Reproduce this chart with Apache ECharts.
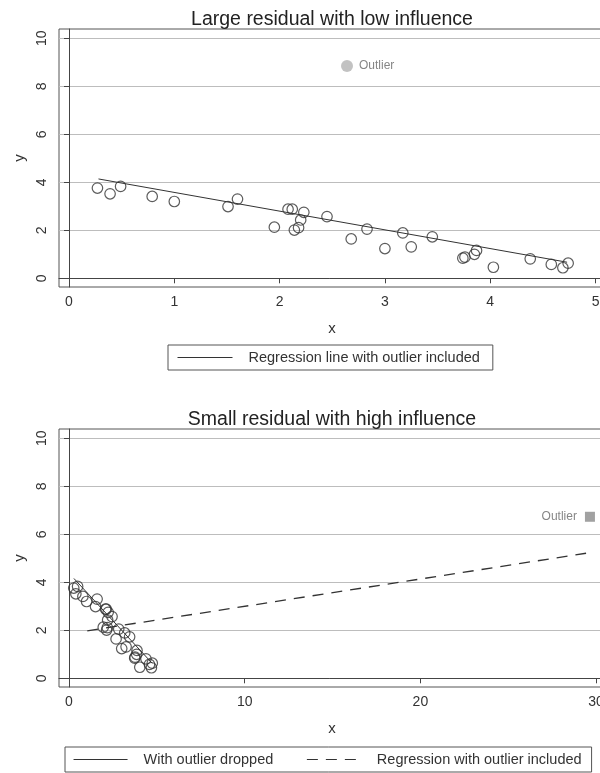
<!DOCTYPE html>
<html><head><meta charset="utf-8">
<script src="https://cdn.jsdelivr.net/npm/echarts@6/dist/echarts.min.js"></script>
<style>html,body{margin:0;padding:0;background:#fff}#c{width:600px;height:773px}</style>
</head><body><div id="c"></div>
<script>
// ---- data ----
const xVals = [0.27,0.39,0.49,0.79,1.00,1.51,1.60,1.95,2.08,2.12,2.23,2.20,2.14,2.18,2.45,2.68,2.83,3.00,3.17,3.25,3.45,3.74,3.76,3.85,3.87,4.03,4.38,4.58,4.69,4.74];
const yVals = [3.76,3.52,3.83,3.41,3.20,2.99,3.30,2.13,2.88,2.88,2.75,2.43,2.01,2.11,2.57,1.64,2.05,1.24,1.89,1.31,1.73,0.84,0.88,1.00,1.16,0.46,0.81,0.58,0.44,0.63];
const outlierTopX = [2.64];
const outlierTopY = [8.85];
const outlierBottomX = [29.65];
const outlierBottomY = [6.73];
const regTopX = [0.28, 4.73];
const regTopY = [4.14, 0.67];
const droppedX = [0.28, 4.74];
const droppedY = [4.16, 0.62];
const inclX = [1.04, 29.43];
const inclY = [1.98, 5.21];
const yTicks = [0, 2, 4, 6, 8, 10];
const xTicksTop = [0, 1, 2, 3, 4, 5];
const xTicksBottom = [0, 10, 20, 30];
const titleTop = 'Large residual with low influence';
const titleBottom = 'Small residual with high influence';
const nameTopLine = 'Regression line with outlier included';
const nameDropped = 'With outlier dropped';
const nameIncl = 'Regression with outlier included';
const outlierLabel = 'Outlier';

// ---- helpers ----
const pairs = (xs, ys) => xs.map((x, i) => [x, ys[i]]);
const FONT = 'Liberation Sans, Arial, Helvetica, sans-serif';
const axisCol = '#444';

function xAxisDef(gi, min, max, ticks) {
  return {
    type: 'value', gridIndex: gi, min: min, max: max,
    name: 'x', nameLocation: 'middle', nameGap: 34,
    nameTextStyle: {fontFamily: FONT, fontSize: 15, color: '#333'},
    axisLine: {show: true, lineStyle: {color: axisCol, width: 1}},
    axisTick: {show: true, length: 5, customValues: ticks, lineStyle: {color: axisCol}},
    axisLabel: {show: true, customValues: ticks, margin: 8, fontFamily: FONT, fontSize: 14, color: '#333'},
    splitLine: {show: false}
  };
}
function yAxisDef(gi, ticks) {
  return {
    type: 'value', gridIndex: gi, min: -0.3625, max: 10.3875,
    name: 'y', nameLocation: 'middle', nameGap: 31,
    nameTextStyle: {fontFamily: FONT, fontSize: 15, color: '#333'},
    axisLine: {show: true, lineStyle: {color: axisCol, width: 1}},
    axisTick: {show: true, length: 5, customValues: ticks, lineStyle: {color: axisCol}},
    axisLabel: {show: true, customValues: ticks, rotate: 90, margin: 10, fontFamily: FONT, fontSize: 14, color: '#333'},
    splitLine: {show: true, lineStyle: {color: '#bdbdbd', width: 1}}
  };
}
const circleStyle = {color: 'rgba(0,0,0,0)', borderColor: '#333', borderWidth: 1.2};
const legendHidden = {color: 'rgba(0,0,0,0)', borderColor: 'rgba(0,0,0,0)', borderWidth: 0, opacity: 0};

const chart = echarts.init(document.getElementById('c'), null, {renderer: 'canvas'});
chart.setOption({
  animation: false,
  backgroundColor: '#fff',
  title: [
    {text: titleTop, left: 332, top: 10, textAlign: 'center', padding: 0,
     textStyle: {fontFamily: FONT, fontSize: 19.5, fontWeight: 'normal', color: '#222'}},
    {text: titleBottom, left: 332, top: 410, textAlign: 'center', padding: 0,
     textStyle: {fontFamily: FONT, fontSize: 19.5, fontWeight: 'normal', color: '#222'}}
  ],
  grid: [
    {left: 59, top: 29, width: 546, height: 258, outerBoundsMode: 'none', containLabel: false,
     show: true, borderColor: '#555', borderWidth: 1, backgroundColor: 'rgba(0,0,0,0)'},
    {left: 59, top: 429, width: 546, height: 258, outerBoundsMode: 'none', containLabel: false,
     show: true, borderColor: '#555', borderWidth: 1, backgroundColor: 'rgba(0,0,0,0)'}
  ],
  xAxis: [
    xAxisDef(0, -0.095, 5.09, xTicksTop),
    xAxisDef(1, -0.569, 30.507, xTicksBottom)
  ],
  yAxis: [yAxisDef(0, yTicks), yAxisDef(1, yTicks)],
  legend: [
    {data: [nameTopLine], left: 168, top: 345, orient: 'horizontal', selectedMode: false,
     padding: [5, 13, 5, 9], itemWidth: 55, itemHeight: 17, borderColor: '#555', borderWidth: 1, borderRadius: 0,
     itemStyle: legendHidden, lineStyle: {width: 1, color: '#333'},
     textStyle: {fontFamily: FONT, fontSize: 14.5, color: '#333', padding: [0, 0, 0, 11]}},
    {data: [nameDropped, nameIncl], left: 65, top: 747, orient: 'horizontal', selectedMode: false,
     padding: [5, 10, 5, 8], itemWidth: 54, itemHeight: 17, itemGap: 33, borderColor: '#555', borderWidth: 1, borderRadius: 0,
     itemStyle: legendHidden, lineStyle: {width: 1.1, color: '#333'},
     textStyle: {fontFamily: FONT, fontSize: 14.5, color: '#333', padding: [0, 0, 0, 11]}}
  ],
  series: [
    {type: 'scatter', name: 'pts1', xAxisIndex: 0, yAxisIndex: 0, symbol: 'circle', symbolSize: 10.5,
     itemStyle: circleStyle, data: pairs(xVals, yVals), z: 3},
    {type: 'scatter', name: 'out1', xAxisIndex: 0, yAxisIndex: 0, symbol: 'circle', symbolSize: 12,
     itemStyle: {color: '#b3b3b3'}, data: pairs(outlierTopX, outlierTopY),
     label: {show: true, position: 'right', distance: 6, formatter: outlierLabel, fontFamily: FONT, fontSize: 12, color: '#666'}},
    {type: 'line', name: nameTopLine, xAxisIndex: 0, yAxisIndex: 0, symbol: 'none', showSymbol: false,
     lineStyle: {color: '#333', width: 1}, itemStyle: {color: '#333'}, data: pairs(regTopX, regTopY)},

    {type: 'scatter', name: 'pts2', xAxisIndex: 1, yAxisIndex: 1, symbol: 'circle', symbolSize: 10.5,
     itemStyle: circleStyle, data: pairs(xVals, yVals), z: 3},
    {type: 'scatter', name: 'out2', xAxisIndex: 1, yAxisIndex: 1, symbol: 'rect', symbolSize: 10,
     itemStyle: {color: '#8a8a8a'}, data: pairs(outlierBottomX, outlierBottomY),
     label: {show: true, position: 'left', distance: 8, formatter: outlierLabel, fontFamily: FONT, fontSize: 12, color: '#666'}},
    {type: 'line', name: nameDropped, xAxisIndex: 1, yAxisIndex: 1, symbol: 'none', showSymbol: false,
     lineStyle: {color: '#333', width: 1}, itemStyle: {color: '#333'}, data: pairs(droppedX, droppedY)},
    {type: 'line', name: nameIncl, xAxisIndex: 1, yAxisIndex: 1, symbol: 'none', showSymbol: false,
     lineStyle: {color: '#333', width: 1.3, type: [11, 8]}, itemStyle: {color: '#333'}, data: pairs(inclX, inclY)}
  ]
});
</script></body></html>
